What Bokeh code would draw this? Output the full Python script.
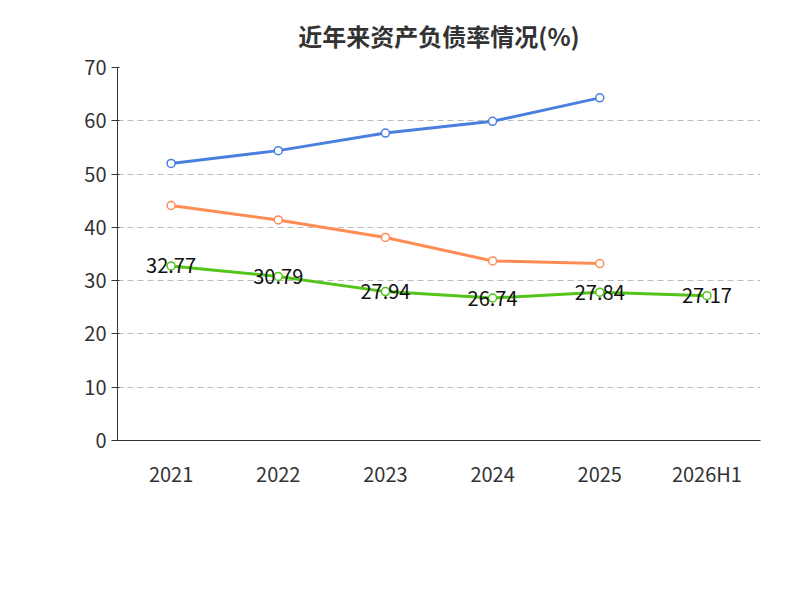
import math
from bokeh.plotting import figure
from bokeh.models import Legend, LegendItem, Label, FactorRange, Range1d, FixedTicker
from bokeh.core.properties import value
from bokeh.embed import file_html
from bokeh.resources import INLINE

years = ["2021", "2022", "2023", "2024", "2025", "2026H1"]
company = [32.77, 30.79, 27.94, 26.74, 27.84, 27.17]
ind_years = ["2021", "2022", "2023", "2024", "2025"]
ind_mean = [52.0, 54.4, 57.7, 59.9, 64.3]
ind_median = [44.1, 41.4, 38.1, 33.7, 33.2]
labels = ["32.77", "30.79", "27.94", "26.74", "27.84", "27.17"]

FONT = "Noto Sans CJK SC"
p = figure(width=784, height=584, x_range=FactorRange(*years), y_range=Range1d(0, 70),
           output_backend="svg", toolbar_location=None,
           min_border_left=117, min_border_right=24, min_border_top=40, min_border_bottom=144)
p.title.text = "近年来资产负债率情况(%)"
p.title.align = "center"
p.title.text_font = FONT
p.title.text_font_size = "24px"
p.title.text_color = "#333333"
p.title.standoff = 30
p.outline_line_color = None
p.xgrid.grid_line_color = None
p.ygrid.grid_line_dash = "6 4"
p.ygrid.grid_line_color = "#bbbbbb"
p.yaxis.ticker = FixedTicker(ticks=[0, 10, 20, 30, 40, 50, 60, 70])
for ax in (p.xaxis, p.yaxis):
    ax.axis_line_color = "#333333"
    ax.major_tick_line_color = "#333333"
    ax.major_label_text_font = FONT
    ax.major_label_text_font_size = "20px"
    ax.major_label_text_color = "#333333"
    ax.minor_tick_line_color = None
p.xaxis.major_tick_line_color = None
p.xaxis.major_label_standoff = 12

r1 = p.line(years, company, color="#52c41a", line_width=3)
c1 = p.scatter(years, company, size=8, fill_color="white", line_color="#52c41a", line_width=1.5)
r2 = p.line(ind_years, ind_mean, color="#4a7fdf", line_width=3)
c2 = p.scatter(ind_years, ind_mean, size=8, fill_color="white", line_color="#4a7fdf", line_width=1.5)
r3 = p.line(ind_years, ind_median, color="#ff8c55", line_width=3)
c3 = p.scatter(ind_years, ind_median, size=8, fill_color="white", line_color="#ff8c55", line_width=1.5)
p.text(years, company, text=labels, text_align="center", text_baseline="middle",
       text_font=value(FONT), text_font_size="20px", text_color="#111111")

p.add_layout(Label(x=-63, y=315, x_units="screen", y_units="screen", text="(%)", angle=math.pi/2,
                   text_align="center", text_baseline="middle",
                   text_color="red", text_font=FONT, text_font_size="16px"))
p.add_layout(Label(x=275, y=-150, x_units="screen", y_units="screen", text="制图数据来自恒生聚源数据库",
                   text_align="center", text_baseline="middle",
                   text_color="#c8961e", text_font=FONT, text_font_size="15px"))

legend = Legend(items=[LegendItem(label="公司资产负债率", renderers=[r1, c1]),
                       LegendItem(label="行业均值", renderers=[r2, c2]),
                       LegendItem(label="行业中位数", renderers=[r3, c3])],
                orientation="horizontal", location=(-35, -118), border_line_color=None,
                background_fill_alpha=0,
                label_text_font=FONT, label_text_font_size="20px", label_text_color="#333333",
                glyph_width=50, spacing=25, margin=0)
p.add_layout(legend, "center")

open("out.html", "w").write(file_html(p, INLINE))
